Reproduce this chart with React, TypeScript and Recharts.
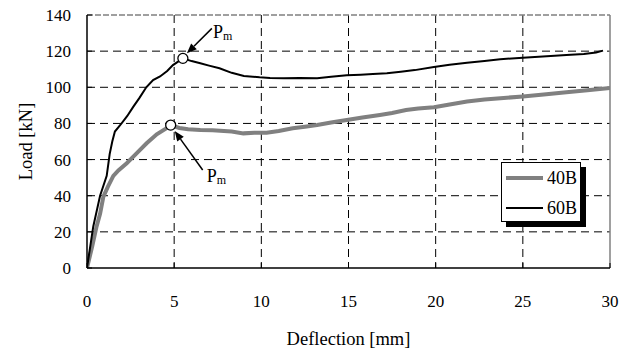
import React from 'react';
import {
  LineChart, Line, XAxis, YAxis, CartesianGrid, ReferenceLine, ReferenceDot,
} from 'recharts';

const deflection60B = [0, 0.36, 0.75, 1.13, 1.3, 1.45, 1.6, 1.9, 2.3, 2.66, 3.0, 3.4, 3.79, 4.19, 4.6, 4.93, 5.5, 6.0, 6.5, 7.0, 7.6, 8.3, 9.0, 9.9, 10.5, 11.3, 12.2, 13.2, 14.0, 14.9, 15.7, 16.4, 17.2, 18.0, 18.8, 19.9, 20.8, 21.8, 22.8, 23.7, 25.0, 26.6, 27.5, 28.5, 29.2, 29.6];
const load60B = [0, 23, 40, 51, 63, 70, 75.5, 79, 84, 89.3, 94, 100, 104, 106, 109, 112.3, 116, 114.5, 113.3, 112, 110.5, 108, 106.3, 105.5, 105.2, 105, 105.2, 105, 105.8, 106.6, 107, 107.4, 107.8, 108.6, 109.5, 111.2, 112.5, 113.6, 114.6, 115.5, 116.4, 117.3, 117.8, 118.4, 119.3, 120.3];

const deflection40B = [0, 0.3, 0.55, 0.75, 0.94, 1.2, 1.51, 1.8, 2.28, 2.8, 3.42, 4.0, 4.5, 4.8, 5.3, 5.8, 6.5, 7.2, 7.63, 8.3, 8.97, 9.6, 10.3, 11.0, 11.8, 12.5, 13.2, 14.0, 14.9, 15.8, 16.8, 17.5, 18.3, 19.0, 19.9, 20.8, 21.8, 22.8, 23.9, 25.0, 26.2, 27.5, 28.7, 30.0];
const load40B = [0, 12, 23, 30, 39.5, 45, 51, 54, 58, 63, 69, 74, 77, 79, 77.5, 76.8, 76.4, 76.2, 76, 75.5, 74.5, 74.8, 74.9, 75.8, 77.3, 78.2, 79.1, 80.5, 81.9, 83.3, 84.7, 85.8, 87.4, 88.2, 89.0, 90.5, 92.1, 93.2, 94.1, 94.9, 96.0, 97.2, 98.4, 99.6];

const peak60B = { x: 5.5, y: 116 };
const peak40B = { x: 4.8, y: 79.1 };

const xTicks = [0, 5, 10, 15, 20, 25, 30];
const yTicks = [0, 20, 40, 60, 80, 100, 120, 140];
const xGrid = [5, 10, 15, 20, 25];
const yGrid = [20, 40, 60, 80, 100, 120];

const seriesNames = ['40B', '60B'];
const peakLabel = 'P';
const peakSub = 'm';

const data60B = deflection60B.map((x, i) => ({ x, y: load60B[i] }));
const data40B = deflection40B.map((x, i) => ({ x, y: load40B[i] }));

const FONT = '"Liberation Serif", "Times New Roman", serif';

function Arrow({ x1, y1, x2, y2 }: { x1: number; y1: number; x2: number; y2: number }) {
  const dx = x2 - x1;
  const dy = y2 - y1;
  const len = Math.sqrt(dx * dx + dy * dy);
  const ux = dx / len;
  const uy = dy / len;
  const hl = 10;
  const hw = 4;
  const bx = x2 - ux * hl;
  const by = y2 - uy * hl;
  const p1 = `${bx - uy * hw},${by + ux * hw}`;
  const p2 = `${bx + uy * hw},${by - ux * hw}`;
  return (
    <g>
      <line x1={x1} y1={y1} x2={bx} y2={by} stroke="#000" strokeWidth={1.5} />
      <polygon points={`${x2},${y2} ${p1} ${p2}`} fill="#000" />
    </g>
  );
}

function makePeakShape(tail: [number, number], tip: [number, number], text: [number, number]) {
  return (props: any) => {
    const { cx, cy } = props;
    return (
      <g>
        <circle cx={cx} cy={cy} r={5} fill="#fff" stroke="#000" strokeWidth={1.3} />
        <Arrow x1={cx + tail[0]} y1={cy + tail[1]} x2={cx + tip[0]} y2={cy + tip[1]} />
        <text x={cx + text[0]} y={cy + text[1]} fontFamily={FONT} fontSize={18} fill="#000">
          {peakLabel}
          <tspan fontSize={12} dy={2}>{peakSub}</tspan>
        </text>
      </g>
    );
  };
}

const topShape = makePeakShape([29, -30], [4, -5], [30, -20.5]);
const bottomShape = makePeakShape([32, 45], [4, 6], [36, 56.5]);

function LegendBox() {
  const row = (name: string, color: string, w: number) => (
    <div style={{ display: 'flex', alignItems: 'center', height: 30 }}>
      <div style={{ width: 37, height: w, background: color, marginLeft: 4, marginRight: 4 }} />
      <span style={{ fontFamily: FONT, fontSize: 18, color: '#000', lineHeight: '18px' }}>{name}</span>
    </div>
  );
  return (
    <div
      style={{
        position: 'absolute',
        left: 501,
        top: 162,
        width: 80,
        height: 60,
        border: '1px solid #000',
        background: '#fff',
        boxShadow: '5px 5px 0 #000',
        boxSizing: 'border-box',
      }}
    >
      {row(seriesNames[0], '#808080', 4)}
      {row(seriesNames[1], '#000', 2)}
    </div>
  );
}

export default function App() {
  return (
    <div style={{ position: 'absolute', left: 0, top: 0, width: 630, height: 348, background: '#fff', fontFamily: FONT }}>
      <LineChart
        width={630}
        height={348}
        margin={{ top: 15, right: 20, bottom: 0, left: 0 }}
        style={{ fontFamily: FONT }}
      >
        <CartesianGrid
          stroke="#000"
          strokeDasharray="8 5"
          strokeWidth={1}
          horizontalValues={yGrid}
          verticalValues={xGrid}
        />
        <XAxis
          type="number"
          dataKey="x"
          domain={[0, 30]}
          ticks={xTicks}
          interval={0}
          height={80}
          tickSize={-5}
          tickMargin={32}
          axisLine={{ stroke: '#000', strokeWidth: 1.5 }}
          tickLine={{ stroke: '#000', strokeWidth: 1 }}
          tick={{ fill: '#000', fontSize: 17, fontFamily: FONT }}
          label={{ value: 'Deflection [mm]', position: 'center', dy: 30, fill: '#000', fontSize: 18.5, fontFamily: FONT }}
          allowDataOverflow
        />
        <YAxis
          type="number"
          dataKey="y"
          domain={[0, 140]}
          ticks={yTicks}
          interval={0}
          width={87}
          tickSize={-5}
          tickMargin={21}
          axisLine={{ stroke: '#000', strokeWidth: 1.5 }}
          tickLine={{ stroke: '#000', strokeWidth: 1 }}
          tick={{ fill: '#000', fontSize: 17, fontFamily: FONT }}
          label={{ value: 'Load [kN]', angle: -90, position: 'center', dx: -18, fill: '#000', fontSize: 18.5, fontFamily: FONT }}
          allowDataOverflow
        />
        <ReferenceLine y={140} stroke="#808080" strokeWidth={1.5} strokeDasharray="6 2" />
        <ReferenceLine x={30} stroke="#808080" strokeWidth={1.5} />
        <Line
          data={data40B}
          dataKey="y"
          name={seriesNames[0]}
          type="linear"
          stroke="#808080"
          strokeWidth={4}
          dot={false}
          isAnimationActive={false}
        />
        <Line
          data={data60B}
          dataKey="y"
          name={seriesNames[1]}
          type="linear"
          stroke="#000"
          strokeWidth={2}
          dot={false}
          isAnimationActive={false}
        />
        <ReferenceDot x={peak60B.x} y={peak60B.y} r={5} shape={topShape} />
        <ReferenceDot x={peak40B.x} y={peak40B.y} r={5} shape={bottomShape} />
      </LineChart>
      <LegendBox />
    </div>
  );
}
